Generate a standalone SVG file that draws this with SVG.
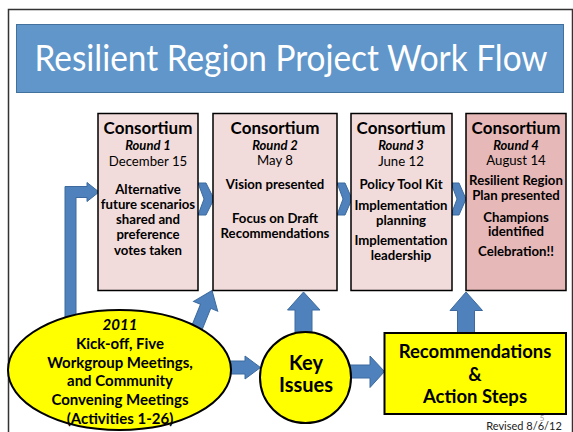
<svg xmlns="http://www.w3.org/2000/svg" width="573" height="432" viewBox="0 0 573 432">
<style>
text{font-family:Lato,"Liberation Sans",sans-serif;fill:#000;text-anchor:middle}
.h{font-weight:bold;font-size:17px}
.r{font-weight:bold;font-style:italic;font-size:13px}
.d{font-size:13.2px}
.b{font-weight:bold;font-size:13.2px}
.box{fill:#F2DCDB;stroke:#000;stroke-width:1.5}
.arr{fill:#4F81BD;stroke:#3C6A9E;stroke-width:1}
.y{fill:#FFFF00;stroke:#000;stroke-width:2}
.e{font-weight:bold;font-size:15px}
</style>
<rect x="8.5" y="9.5" width="564" height="430" fill="#fff" stroke="#333" stroke-width="1.5"/>
<g id="title">
<rect x="16.5" y="24.5" width="547" height="68" fill="#6096C9" stroke="#41719C" stroke-width="1"/>
<text x="291" y="71" style="font-size:37px;fill:#fff" textLength="513" lengthAdjust="spacingAndGlyphs">Resilient Region Project Work Flow</text>
</g>
<g id="connectors">
<path class="arr" d="M65,335 L65,186.5 L87,186.5 L87,182.5 L99,192 L87,201.5 L87,197.5 L76,197.5 L76,335 Z"/>
<polygon class="arr" points="0,0 13,17 5.5,17 5.5,50 -5.5,50 -5.5,17 -13,17" transform="translate(212,290.5) rotate(22)"/>
<polygon class="arr" points="225,361 245,361 245,356 260.5,367.5 245,379 245,374 225,374"/>
<polygon class="arr" points="303.5,292 320,310 312,310 312,340 295,340 295,310 287.5,310"/>
<polygon class="arr" points="345,365 370,365 370,356 384.5,371.5 370,387.5 370,378 345,378"/>
<polygon class="arr" points="466,292 482.5,310.5 474.5,310.5 474.5,334 457.5,334 457.5,310.5 450,310.5"/>
<polygon class="arr" points="198,183 206,183 214,199 206,215 198,215 204,199"/>
<polygon class="arr" points="337,183 345,183 352,199 345,215 337,215 343,199"/>
<polygon class="arr" points="451,183 459,183 466,199 459,215 451,215 457,199"/>
</g>
<g id="round1">
<rect class="box" x="98" y="113.5" width="100" height="177"/>
<text class="h" x="148" y="133.5">Consortium</text>
<text class="r" x="148" y="149.6">Round 1</text>
<text class="d" x="148" y="165.6">December 15</text>
<text class="b" x="148" y="193.5">Alternative</text>
<text class="b" x="148" y="209.2">future scenarios</text>
<text class="b" x="148" y="224.4">shared and</text>
<text class="b" x="148" y="239.4">preference</text>
<text class="b" x="148" y="255.4">votes taken</text>
</g>
<g id="round2">
<rect class="box" x="213" y="113.5" width="124" height="177"/>
<text class="h" x="275" y="133.5">Consortium</text>
<text class="r" x="275" y="149.6">Round 2</text>
<text class="d" x="275" y="165.2">May 8</text>
<text class="b" x="275" y="189.4">Vision presented</text>
<text class="b" x="275" y="223.4">Focus on Draft</text>
<text class="b" x="275" y="238.4">Recommendations</text>
</g>
<g id="round3">
<rect class="box" x="351" y="113.5" width="101" height="177"/>
<text class="h" x="401" y="133.5">Consortium</text>
<text class="r" x="401" y="149.8">Round 3</text>
<text class="d" x="401" y="165.6">June 12</text>
<text class="b" x="401" y="189.4">Policy Tool Kit</text>
<text class="b" x="401" y="210.2">Implementation</text>
<text class="b" x="401" y="225.2">planning</text>
<text class="b" x="401" y="245.2">Implementation</text>
<text class="b" x="401" y="260.2">leadership</text>
</g>
<g id="round4">
<rect class="box" x="466" y="113.5" width="100" height="177" style="fill:#E6B9B8"/>
<text class="h" x="516" y="133.5">Consortium</text>
<text class="r" x="516" y="149.6">Round 4</text>
<text class="d" x="516" y="164.6">August 14</text>
<text class="b" x="516" y="184.5">Resilient Region</text>
<text class="b" x="516" y="199.7">Plan presented</text>
<text class="b" x="516" y="222">Champions</text>
<text class="b" x="516" y="236.2">identified</text>
<text class="b" x="516" y="255.8">Celebration!!</text>
</g>
<g id="kickoff">
<ellipse class="y" cx="119.5" cy="370" rx="111.5" ry="60"/>
<text class="e" x="120" y="329.5" style="font-style:italic">2011</text>
<text class="e" x="120" y="348.5">Kick-off, Five</text>
<text class="e" x="120" y="367.9">Workgroup Meetings,</text>
<text class="e" x="120" y="386.2">and Community</text>
<text class="e" x="120" y="405.2">Convening Meetings</text>
<text class="e" x="120" y="423.5">(Activities 1-26)</text>
</g>
<g id="keyissues">
<circle class="y" cx="305.5" cy="377.5" r="45.5"/>
<text x="306" y="369.7" style="font-weight:bold;font-size:20px">Key</text>
<text x="306" y="392" style="font-weight:bold;font-size:20px">Issues</text>
</g>
<g id="recommendations">
<rect class="y" x="384.5" y="333" width="181.5" height="81"/>
<text x="475" y="357.7" style="font-weight:bold;font-size:18.5px">Recommendations</text>
<text x="475" y="381" style="font-weight:bold;font-size:18.5px">&amp;</text>
<text x="475" y="403.4" style="font-weight:bold;font-size:18.5px">Action Steps</text>
</g>
<text x="542" y="421" style="font-size:8px;fill:#999">5</text>
<text x="524" y="430" style="font-size:11px;fill:#222">Revised 8/6/12</text>
</svg>
